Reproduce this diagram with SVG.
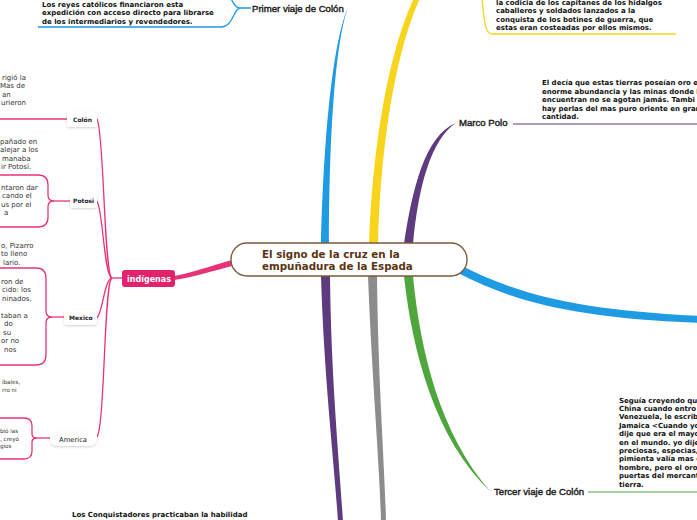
<svg xmlns="http://www.w3.org/2000/svg" width="697" height="520" viewBox="0 0 697 520">
<defs>
<filter id="sh" x="-20%" y="-30%" width="140%" height="170%">
<feDropShadow dx="0" dy="1" stdDeviation="1" flood-color="#000" flood-opacity="0.18"/>
</filter>
<style>
.p{font-family:"DejaVu Sans",Verdana,sans-serif;font-size:7px;font-weight:bold;fill:#111}
.f{font-family:"DejaVu Sans",Verdana,sans-serif;font-size:7px;fill:#333}
.fs{font-family:"DejaVu Sans",Verdana,sans-serif;font-size:5.6px;fill:#333}
.lbl{font-family:"Liberation Sans",Arial,sans-serif;font-size:9.6px;fill:#1a1a1a;stroke:#1a1a1a;stroke-width:0.4}
.nb{font-family:"DejaVu Sans",Verdana,sans-serif;font-size:6px;font-weight:bold;fill:#222}
.pk{fill:none;stroke:#e8337a;stroke-width:1.3}
.box{fill:#fff;filter:url(#sh)}
</style>
</defs>
<rect width="697" height="520" fill="#fff"/>

<g id="connectors">
<path d="M321,244 C323,160 330,50 348,7 C333,50 329,160 329,244 Z" fill="#1e9be3"/>
<path d="M369,244 C372,160 385,60 414,-2 L420,-2 C392,60 380,160 378,244 Z" fill="#f8d41c"/>
<path d="M404,244 C412,190 425,135 456,123 C430,140 418,190 413,244 Z" fill="#5e3a7e"/>
<path d="M458,264 C520,296 580,310 700,316 L700,323 C580,318 518,304 458,273 Z" fill="#1e9be3"/>
<path d="M404,276 C412,350 435,440 491,492 C440,435 420,350 413,276 Z" fill="#4ea63c"/>
<path d="M321,276 C324,380 335,470 338,522 L343,522 C340,470 331,380 330,276 Z" fill="#5e3a7e"/>
<path d="M368,276 C372,380 380,470 381,522 L386,522 C385,470 378,380 377,276 Z" fill="#8c8c8e"/>
<path d="M232,260 C210,266 195,272 174,276 L174,280 C195,277 212,271 232,266 Z" fill="#e8337a"/>
<path d="M251,8 L240,8 C234,8 234,2 230,-2 M240,8 C234,8 233,26 222,27 L38,27" fill="none" stroke="#1e9be3" stroke-width="1.3"/>
<path d="M676,34 L492,34 C485,34 484,20 482,-2" fill="none" stroke="#f8d41c" stroke-width="1.3"/>
<path d="M513,124 L697,124" fill="none" stroke="#5e3a7e" stroke-width="1.2"/>
<path d="M588,492 L697,492" fill="none" stroke="#4ea63c" stroke-width="1.2"/>
<path class="pk" d="M110,278 L122,278" stroke-width="2"/>
<path class="pk" d="M112,278 C104,276 104,130 97,119"/>
<path class="pk" d="M112,278 C104,276 103,210 97,201"/>
<path class="pk" d="M112,278 C104,280 103,312 97,318"/>
<path class="pk" d="M112,278 C104,280 105,425 97,437"/>
<path class="pk" d="M67,119 L0,119"/>
<path class="pk" d="M0,175 L38,175 Q48,175 48,185 L48,195 Q48,201 54,201 Q48,201 48,207 L48,217 Q48,227 38,227 L0,227"/>
<path class="pk" d="M54,201 L70,201" stroke-width="2"/>
<path class="pk" d="M0,268 L36,268 Q46,268 46,278 L46,311 Q46,317 52,317 Q46,317 46,323 L46,355 Q46,365 36,365 L0,365"/>
<path class="pk" d="M52,317 L64,317" stroke-width="2"/>
<path class="pk" d="M0,418 L24,418 Q32,418 32,426 L32,434 Q32,438 37,438 Q32,438 32,442 L32,451 Q32,459 24,459 L0,459"/>
<path class="pk" d="M37,438 L50,438" stroke-width="2"/>
</g>

<g id="center">
<rect x="231" y="243" width="236" height="33" rx="16" fill="#fff" stroke="#7a5a3a" stroke-width="1.4"/>
<text x="262" y="258" font-family="DejaVu Sans,Verdana,sans-serif" font-size="10.3" font-weight="bold" fill="#5a3512">El signo de la cruz en la</text>
<text x="262" y="270" font-family="DejaVu Sans,Verdana,sans-serif" font-size="10.3" font-weight="bold" fill="#5a3512">empuñadura de la Espada</text>
</g>

<g id="primer-viaje">
<text class="lbl" x="252" y="12">Primer viaje de Colón</text>
</g>
<g id="primer-texto">
<text class="p" x="42" y="6.5">Los reyes católicos financiaron esta</text>
<text class="p" x="42" y="15">expedición con acceso directo para librarse</text>
<text class="p" x="42" y="23.5">de los intermediarios y revendedores.</text>
</g>

<g id="codicia-texto">
<text class="p" x="496" y="4.5">la codicia de los capitanes de los hidalgos</text>
<text class="p" x="496" y="13">caballeros y soldados lanzados a la</text>
<text class="p" x="496" y="21.5">conquista de los botines de guerra, que</text>
<text class="p" x="496" y="30">estas eran costeadas por ellos mismos.</text>
</g>

<g id="marco-polo">
<text class="lbl" x="459" y="126">Marco Polo</text>
</g>
<g id="marco-texto">
<text class="p" x="542" y="85">El decía que estas tierras poseían oro e</text>
<text class="p" x="542" y="93.5">enorme abundancia y las minas donde l</text>
<text class="p" x="542" y="102">encuentran no se agotan jamás. Tambi</text>
<text class="p" x="542" y="110.5">hay perlas del mas puro oriente en gran</text>
<text class="p" x="542" y="119">cantidad.</text>
</g>

<g id="tercer-viaje">
<text class="lbl" x="494" y="495">Tercer viaje de Colón</text>
</g>
<g id="tercer-texto">
<text class="p" x="619" y="402.5">Seguía creyendo que</text>
<text class="p" x="619" y="411">China cuando entro</text>
<text class="p" x="619" y="419.4">Venezuela, le escrib</text>
<text class="p" x="619" y="427.8">Jamaica &lt;Cuando yo</text>
<text class="p" x="619" y="436.2">dije que era el mayo</text>
<text class="p" x="619" y="444.6">en el mundo. yo dije</text>
<text class="p" x="619" y="453">preciosas, especias,</text>
<text class="p" x="619" y="461.4">pimienta valía mas d</text>
<text class="p" x="619" y="469.8">hombre, pero el oro</text>
<text class="p" x="619" y="478.2">puertas del mercant</text>
<text class="p" x="619" y="486.6">tierra.</text>
</g>

<g id="conquistadores-texto">
<text class="p" x="72" y="516.5">Los Conquistadores practicaban la habilidad</text>
</g>

<g id="indigenas">
<rect x="122" y="270" width="53" height="17" rx="3" fill="#e3226c"/>
<text x="127" y="282" font-family="DejaVu Sans,Verdana,sans-serif" font-size="8" font-weight="bold" fill="#fff">indígenas</text>
</g>

<g id="colon">
<rect class="box" x="67" y="111" width="30" height="16" rx="3"/>
<text class="nb" x="73" y="121.5">Colón</text>
</g>
<g id="colon-texto">
<text class="f" x="2" y="79.5">rigió la</text>
<text class="f" x="0" y="88">Mas de</text>
<text class="f" x="2" y="96.5">an</text>
<text class="f" x="1" y="105">urieron</text>
</g>

<g id="potosi">
<rect class="box" x="70" y="193" width="27" height="15" rx="3"/>
<text class="nb" x="73" y="203">Potosi</text>
</g>
<g id="potosi-texto">
<text class="f" x="0" y="143.5">pañado en</text>
<text class="f" x="0" y="152">alejar a los</text>
<text class="f" x="2" y="160.5">manaba</text>
<text class="f" x="1" y="169">ir Potosí.</text>
<text class="f" x="1" y="189.5">ntaron dar</text>
<text class="f" x="2" y="198">cando el</text>
<text class="f" x="1" y="206.5">us por el</text>
<text class="f" x="4" y="215">a</text>
</g>

<g id="mexico">
<rect class="box" x="64" y="310" width="33" height="15" rx="3"/>
<text class="nb" x="69" y="320">Mexico</text>
</g>
<g id="mexico-texto">
<text class="f" x="1" y="247.5">o, Pizarro</text>
<text class="f" x="1" y="256">to lleno</text>
<text class="f" x="3" y="264.5">lario.</text>
<text class="f" x="1" y="283.5">ron de</text>
<text class="f" x="2" y="292">cido: los</text>
<text class="f" x="2" y="300.5">ninados,</text>
<text class="f" x="1" y="317.5">taban a</text>
<text class="f" x="4" y="326">do</text>
<text class="f" x="3" y="334.5">su</text>
<text class="f" x="1" y="343">or no</text>
<text class="f" x="4" y="351.5">nos</text>
</g>

<g id="america">
<rect class="box" x="50" y="431" width="47" height="15" rx="7"/>
<text x="59" y="441.5" font-family="DejaVu Sans,Verdana,sans-serif" font-size="6.8" fill="#222">America</text>
</g>
<g id="america-texto">
<text class="fs" x="2" y="384">íbales,</text>
<text class="fs" x="2" y="392">rro ni</text>
<text class="fs" x="0" y="433">bió las</text>
<text class="fs" x="0" y="440.5">, creyó</text>
<text class="fs" x="0" y="448">gios</text>
</g>
</svg>
